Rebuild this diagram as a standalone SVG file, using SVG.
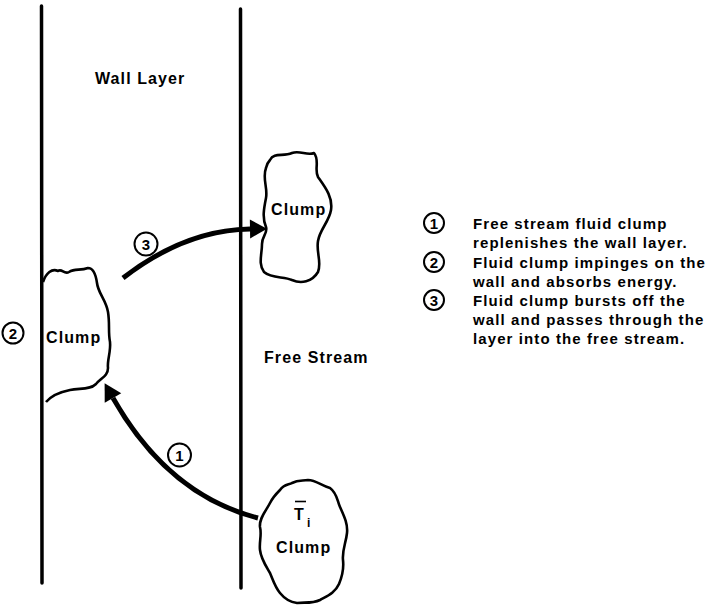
<svg xmlns="http://www.w3.org/2000/svg" width="724" height="607" viewBox="0 0 724 607">
<style>
text{font-family:"Liberation Sans",Arial,sans-serif;font-weight:bold;fill:#000}
.lbl{font-size:16px;letter-spacing:1.1px}
.leg{font-size:15px;letter-spacing:1.1px}
.num{font-size:15px;text-anchor:middle}
.wall{stroke:#000;stroke-width:3.5;stroke-linecap:round;fill:none}
.clump{stroke:#000;stroke-width:2.6;fill:none;stroke-linejoin:round}
.arrow{stroke:#000;stroke-width:5;fill:none}
.circ{stroke:#000;stroke-width:2;fill:#fff}
</style>
<defs>
<marker id="head" markerUnits="userSpaceOnUse" markerWidth="20" markerHeight="22" refX="0" refY="9.5" orient="auto" overflow="visible">
<path d="M0,0 L17,9.5 L0,19 Z" fill="#000"/>
</marker>
</defs>
<rect width="724" height="607" fill="#fff"/>

<g id="walls">
<line class="wall" x1="41.5" y1="6" x2="42" y2="583"/>
<line class="wall" x1="240.5" y1="9" x2="241" y2="588"/>
<text class="lbl" x="95" y="84">Wall Layer</text>
<text class="lbl" x="264" y="363">Free Stream</text>
</g>

<g id="clump-top">
<path class="clump" d="M270,160 C274,152 283,157 292,153 C300,150 307,156 314,153 C320,160 314,170 318,177 C325,187 333,197 331,210 C329,222 320,229 318,241 C316,253 322,262 318,272 C312,282 301,284 292,280 C284,276 272,279 264,272 C258,264 262,254 262,244 C262,236 268,233 266,227 C262,218 264,208 266,198 C268,188 262,178 266,168 C267,164 268,162 270,160 Z"/>
<text class="lbl" x="271" y="215">Clump</text>
</g>

<g id="clump-wall">
<path class="clump" d="M43,282 C46,273 52,268 58,271 C62,268 64,275 69,272 C75,268 80,271 88,268 C94,268 96,276 97,283 C98,293 106,300 108,312 C110,324 108,332 110,342 C111,352 107,360 108,368 C108,376 101,378 96,384 C90,390 80,388 70,390 C60,392 52,395 46,402"/>
<text class="lbl" x="46" y="343">Clump</text>
</g>

<g id="clump-bottom">
<path class="clump" d="M280,490 C284,484 289,485 292,483 C298,480 302,481 308,480 C316,480 322,486 330,488 C337,493 337,500 340,507 C344,516 348,524 347,533 C346,543 342,550 343,560 C344,569 342,577 339,584 C335,593 327,596 320,600 C312,604 304,602 297,603 C289,602 284,598 280,593 C275,587 273,580 270,573 C266,566 261,559 260,550 C259,542 262,535 260,527 C259,518 266,511 270,503 C273,497 276,494 280,490 Z"/>
<line x1="295" y1="501.5" x2="306" y2="501.5" stroke="#000" stroke-width="1.6"/>
<text x="294" y="520" style="font-size:16px">T</text>
<text x="307" y="527" style="font-size:12px">i</text>
<text class="lbl" x="276" y="553">Clump</text>
</g>

<g id="connectors">
<path class="arrow" d="M123,278 Q185,230 250,229" marker-end="url(#head)"/>
<path class="arrow" d="M258,518 Q168,495 113,398" marker-end="url(#head)"/>
</g>

<g id="step-labels">
<g id="label-1"><circle class="circ" cx="179.5" cy="455" r="11.5"/><text class="num" x="179.5" y="460.5">1</text></g>
<g id="label-2"><circle class="circ" cx="13" cy="333" r="10.5"/><text class="num" x="13" y="338.5">2</text></g>
<g id="label-3"><circle class="circ" cx="146" cy="244" r="11.5"/><text class="num" x="146" y="249.5">3</text></g>
</g>

<g id="legend">
<g id="legend-1">
<circle class="circ" cx="434" cy="223" r="10"/><text class="num" x="434" y="228.5">1</text>
<text class="leg" x="473" y="229">Free stream fluid clump</text>
<text class="leg" x="473" y="248">replenishes the wall layer.</text>
</g>
<g id="legend-2">
<circle class="circ" cx="434" cy="262" r="10"/><text class="num" x="434" y="267.5">2</text>
<text class="leg" x="473" y="268">Fluid clump impinges on the</text>
<text class="leg" x="473" y="287">wall and absorbs energy.</text>
</g>
<g id="legend-3">
<circle class="circ" cx="434" cy="300" r="10"/><text class="num" x="434" y="305.5">3</text>
<text class="leg" x="473" y="306">Fluid clump bursts off the</text>
<text class="leg" x="473" y="325">wall and passes through the</text>
<text class="leg" x="473" y="344">layer into the free stream.</text>
</g>
</g>
</svg>
